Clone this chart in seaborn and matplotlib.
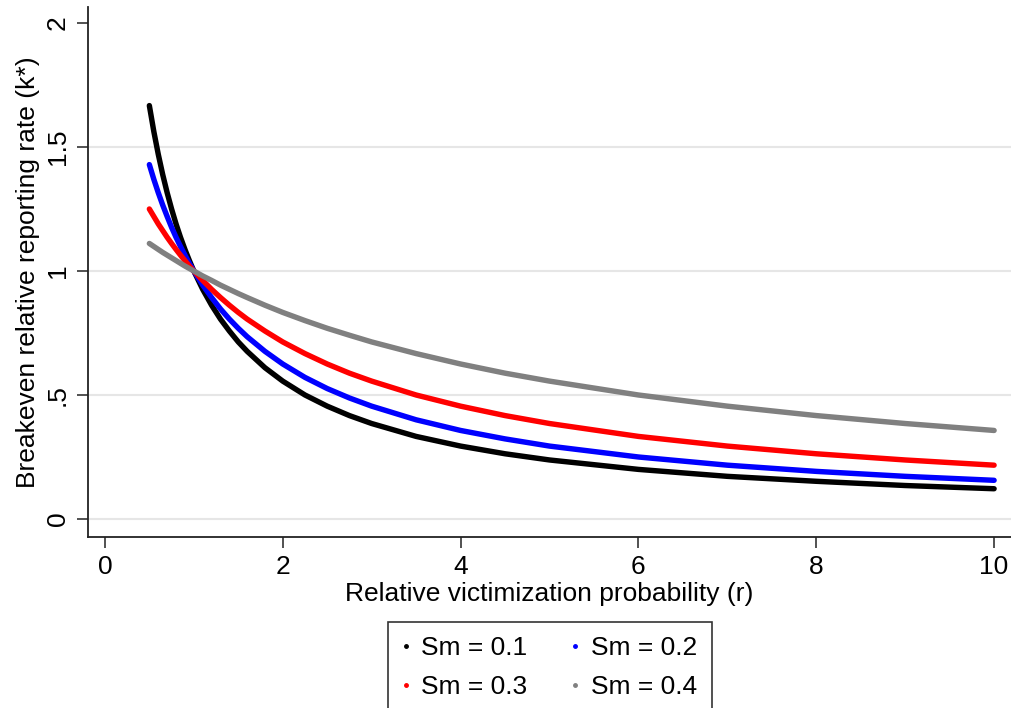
import numpy as np
import pandas as pd
import matplotlib
matplotlib.use('Agg')
import matplotlib.pyplot as plt
import seaborn as sns
from matplotlib.lines import Line2D

# values
r = [0.5, 0.55, 0.6, 0.65, 0.7, 0.75, 0.8, 0.85, 0.9, 0.95, 1.0, 1.1, 1.2, 1.3,
     1.4, 1.5, 1.6, 1.8, 2.0, 2.25, 2.5, 2.75, 3.0, 3.5, 4.0, 4.5, 5.0, 6.0,
     7.0, 8.0, 9.0, 10.0]
k_sm01 = [1.667, 1.563, 1.471, 1.389, 1.316, 1.250, 1.190, 1.136, 1.087, 1.042,
          1.0, 0.926, 0.862, 0.806, 0.758, 0.714, 0.676, 0.610, 0.556, 0.500,
          0.455, 0.417, 0.385, 0.333, 0.294, 0.263, 0.238, 0.200, 0.172, 0.152,
          0.135, 0.122]
k_sm02 = [1.429, 1.370, 1.316, 1.266, 1.220, 1.176, 1.136, 1.099, 1.064, 1.031,
          1.0, 0.943, 0.893, 0.847, 0.806, 0.769, 0.735, 0.676, 0.625, 0.571,
          0.526, 0.488, 0.455, 0.400, 0.357, 0.323, 0.294, 0.250, 0.217, 0.192,
          0.172, 0.156]
k_sm03 = [1.250, 1.220, 1.190, 1.163, 1.136, 1.111, 1.087, 1.064, 1.042, 1.020,
          1.0, 0.962, 0.926, 0.893, 0.862, 0.833, 0.806, 0.758, 0.714, 0.667,
          0.625, 0.588, 0.556, 0.500, 0.455, 0.417, 0.385, 0.333, 0.294, 0.263,
          0.238, 0.217]
k_sm04 = [1.111, 1.099, 1.087, 1.075, 1.064, 1.053, 1.042, 1.031, 1.020, 1.010,
          1.0, 0.980, 0.962, 0.943, 0.926, 0.909, 0.893, 0.862, 0.833, 0.800,
          0.769, 0.741, 0.714, 0.667, 0.625, 0.588, 0.556, 0.500, 0.455, 0.417,
          0.385, 0.357]
labels = ['Sm = 0.1', 'Sm = 0.2', 'Sm = 0.3', 'Sm = 0.4']
colors = ['black', 'blue', 'red', 'gray']

# long format for seaborn
frames = []
for lab, ks in zip(labels, [k_sm01, k_sm02, k_sm03, k_sm04]):
    frames.append(pd.DataFrame({'r': r, 'k': ks, 'series': lab}))
df = pd.concat(frames, ignore_index=True)

sns.set_style('white')
plt.rcParams['font.family'] = ['Liberation Sans', 'DejaVu Sans']
plt.rcParams['text.color'] = 'black'
plt.rcParams['axes.labelcolor'] = 'black'
plt.rcParams['xtick.color'] = 'black'
plt.rcParams['ytick.color'] = 'black'

fig = plt.figure(figsize=(10.11, 7.08), dpi=100)
ax = fig.add_axes([88 / 1011, 1 - 537 / 708, 1 - 88 / 1011, (537 - 7) / 708])

sns.lineplot(data=df, x='r', y='k', hue='series', palette=colors,
             linewidth=3.9, ax=ax, legend=False, solid_capstyle='round',
             solid_joinstyle='round')

ax.set_xlim(-0.19, 10.19)
ax.set_ylim(-0.0726, 2.0645)
ax.set_xticks([0, 2, 4, 6, 8, 10])
ax.set_yticks([0, 0.5, 1, 1.5, 2])
ax.set_yticklabels(['0', '.5', '1', '1.5', '2'], rotation=90, va='center')
for y in [0, 0.5, 1, 1.5]:
    ax.axhline(y, color='#e6e6e6', linewidth=1.5, zorder=0)

ax.tick_params(axis='both', direction='out', length=8, width=1.2,
               labelsize=19, color='#333333', pad=5)
ax.tick_params(axis='x', bottom=True)
ax.tick_params(axis='y', left=True)
for side in ['top', 'right']:
    ax.spines[side].set_visible(False)
for side in ['left', 'bottom']:
    ax.spines[side].set_color('#222222')
    ax.spines[side].set_linewidth(1.3)

ax.set_xlabel('Relative victimization probability (r)', fontsize=19, labelpad=2)
ax.set_ylabel('Breakeven relative reporting rate (k*)', fontsize=19, labelpad=4)

# row-major order like the reference: 0.1, 0.2 / 0.3, 0.4
order = [0, 2, 1, 3]
handles = [Line2D([], [], color=colors[i], marker='.', markersize=5,
                  linestyle='none') for i in order]
leg = fig.legend(handles, [labels[i] for i in order], ncol=2, loc='upper center',
                 bbox_to_anchor=(0.544, 0.1215), fontsize=19, frameon=True,
                 fancybox=False, edgecolor='black', handletextpad=0.5,
                 columnspacing=1.7, borderpad=0.55, labelspacing=0.55,
                 handlelength=0.2, borderaxespad=0)
leg.get_frame().set_linewidth(1.2)

fig.savefig('out.png', dpi=100)
